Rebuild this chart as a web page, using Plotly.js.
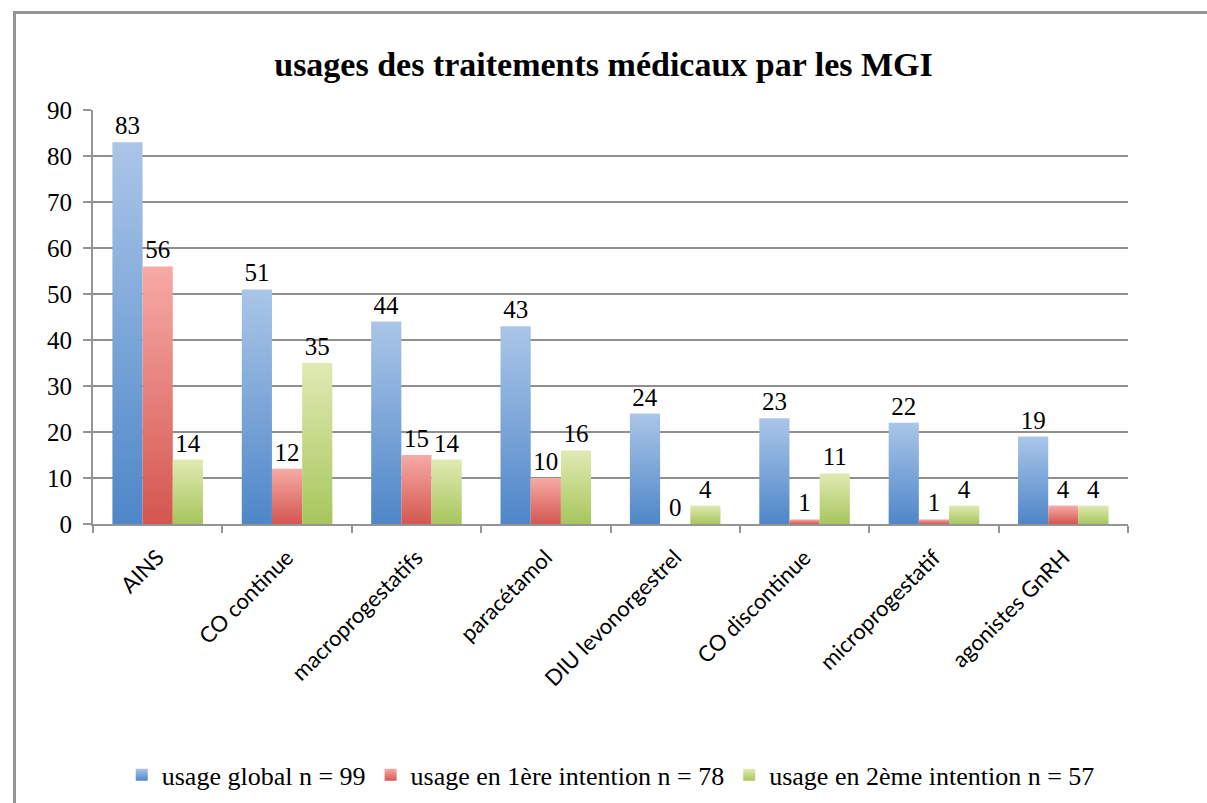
<!DOCTYPE html>
<html>
<head>
<meta charset="utf-8">
<script src="https://cdn.plot.ly/plotly-3.0.1.min.js"></script>
<style>
html,body{margin:0;padding:0;background:#fff;}
#frame{position:absolute;left:13px;top:11px;width:1300px;height:900px;border-top:3px solid #959595;border-left:3px solid #959595;}
#chart{position:absolute;left:0;top:0;width:1207px;height:803px;}
</style>
</head>
<body>
<div id="frame"></div>
<div id="chart"></div>
<script>
const categories = ["AINS","CO continue","macroprogestatifs","paracétamol","DIU levonorgestrel","CO discontinue","microprogestatif","agonistes GnRH"];
const usageGlobal = [83,51,44,43,24,23,22,19];
const usagePremiere = [56,12,15,10,0,1,1,4];
const usageDeuxieme = [14,35,14,16,4,11,4,4];
const seriesNames = ["usage global n = 99","usage en 1ère intention n = 78","usage en 2ème intention n = 57"];
const yTicks = [0,10,20,30,40,50,60,70,80,90];

const colors = ["#7aa3d8","#e6807b","#c4d98a"];
const grads = [["#aac6e8","#4e86c8"],["#f7aaa6","#d4564f"],["#e0eab3","#a7c65c"]];
const serif = "Liberation Serif, Times New Roman, serif";

function mk(vals, i){
  return {
    type:"bar", x:categories, y:vals, name:seriesNames[i],
    marker:{color:colors[i], line:{width:0}},
    text:vals.map(String), textposition:"outside", cliponaxis:false,
    textfont:{family:serif,size:25,color:"#000"}
  };
}
const data=[mk(usageGlobal,0),mk(usagePremiere,1),mk(usageDeuxieme,2)];

const layout = {
  width:1207, height:803,
  paper_bgcolor:"rgba(0,0,0,0)", plot_bgcolor:"rgba(0,0,0,0)",
  margin:{l:93,r:79,t:110,b:279},
  title:{text:"<b>usages des traitements médicaux par les MGI</b>", x:0.5, xanchor:"center", y:0.92, yanchor:"middle",
    font:{family:serif,size:34,color:"#000"}},
  barmode:"group", bargap:0.3, bargroupgap:0,
  showlegend:true,
  legend:{orientation:"h", xref:"container", yref:"container", x:0.506, xanchor:"center", y:0.035, yanchor:"middle",
    font:{family:serif,size:26,color:"#000"}, itemwidth:30, traceorder:"normal"},
  xaxis:{type:"category", tickangle:-45, showgrid:false, showline:true, linecolor:"#959595", linewidth:2,
    ticks:"outside", ticklen:7, tickcolor:"#959595", tickwidth:2, tickson:"boundaries", ticklabelstandoff:10,
    tickfont:{family:"Lato, Open Sans, sans-serif", size:22, color:"#000"}, automargin:false},
  yaxis:{range:[0,90], tickvals:yTicks, showgrid:true, gridcolor:"#8f8f8f", gridwidth:2,
    showline:true, linecolor:"#959595", linewidth:2, ticks:"outside", ticklen:8, tickcolor:"#959595", tickwidth:2,
    ticklabelstandoff:6,
    tickfont:{family:serif,size:25,color:"#000"}, zeroline:false, automargin:false}
};

const gd=document.getElementById("chart");
function applyGrad(){
  const svg=gd.querySelector("svg.main-svg");
  if(!svg) return;
  if(!document.getElementById("bg0")){
    const ns="http://www.w3.org/2000/svg";
    let defs=svg.querySelector("defs");
    if(!defs){defs=document.createElementNS(ns,"defs");svg.insertBefore(defs,svg.firstChild);}
    grads.forEach((g,i)=>{
      const lg=document.createElementNS(ns,"linearGradient");
      lg.setAttribute("id","bg"+i);lg.setAttribute("x1","0");lg.setAttribute("y1","0");lg.setAttribute("x2","0");lg.setAttribute("y2","1");
      [[0,g[0]],[1,g[1]]].forEach(s=>{const st=document.createElementNS(ns,"stop");st.setAttribute("offset",s[0]);st.setAttribute("stop-color",s[1]);lg.appendChild(st);});
      defs.appendChild(lg);
    });
  }
  gd.querySelectorAll("g.barlayer g.trace.bars").forEach((t,i)=>{
    t.querySelectorAll("g.point path").forEach(p=>{p.style.fill="url(#bg"+i+")";});
  });
  gd.querySelectorAll("g.legend g.traces").forEach((t,i)=>{
    t.querySelectorAll("g.legendpoints path").forEach(p=>{p.style.fill="url(#bg"+i+")";});
  });
}
Plotly.newPlot(gd,data,layout,{displayModeBar:false,staticPlot:true}).then(()=>{applyGrad();gd.on("plotly_afterplot",applyGrad);});
</script>
</body>
</html>
